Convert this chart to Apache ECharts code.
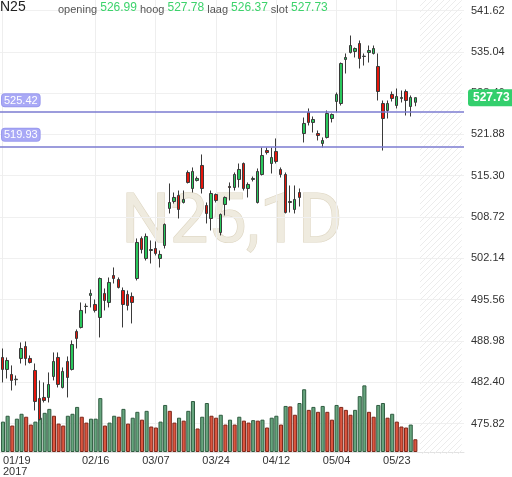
<!DOCTYPE html>
<html>
<head>
<meta charset="utf-8">
<script src="https://cdn.jsdelivr.net/npm/echarts@6/dist/echarts.min.js"></script>
<style>
  html, body { margin: 0; padding: 0; background: #fff; }
  #chart { width: 512px; height: 477px; }
</style>
</head>
<body>
<div id="chart"></div>
<script>
// ============================================================================
// Data
// ============================================================================

const symbol = 'N25'
const period = '1D'
const year = '2017'

const dates = [
  '01/19','01/20','01/23','01/24','01/25','01/26','01/27','01/30','01/31',
  '02/01','02/02','02/03','02/06','02/07','02/08','02/09','02/10','02/13','02/14',
  '02/15','02/16','02/17','02/20','02/21','02/22','02/23','02/24','02/27','02/28',
  '03/01','03/02','03/03','03/06','03/07','03/08','03/09','03/10','03/13','03/14',
  '03/15','03/16','03/17','03/20','03/21','03/22','03/23','03/24','03/27','03/28',
  '03/29','03/30','03/31',
  '04/03','04/04','04/05','04/06','04/07','04/10','04/11','04/12','04/13','04/18',
  '04/19','04/20','04/21','04/24','04/25','04/26','04/27','04/28',
  '05/02','05/03','05/04','05/05','05/08','05/09','05/10','05/11','05/12','05/15',
  '05/16','05/17','05/18','05/19','05/22','05/23','05/24','05/25','05/26','05/29'
]

// [open, close, low, high]
const ohlc = [
  [486.34, 484.43, 482.36, 487.77], [484.43, 485.86, 482.99, 486.34], [483.63, 482.68, 481.08, 485.07],
  [482.80, 482.88, 481.88, 483.47], [486.18, 487.77, 485.38, 488.73], [488.09, 486.18, 485.07, 488.89],
  [486.18, 485.54, 485.38, 486.66], [484.27, 479.33, 477.90, 485.38], [479.81, 476.46, 476.30, 482.68],
  [479.97, 479.49, 479.17, 482.36], [479.97, 482.04, 479.17, 483.95], [483.31, 485.70, 482.68, 487.14],
  [486.34, 482.04, 481.56, 487.14], [481.56, 484.11, 481.40, 484.75], [485.70, 483.15, 479.97, 486.50],
  [484.43, 488.41, 484.27, 489.05], [490.48, 489.37, 487.77, 490.80], [491.12, 493.83, 490.96, 495.10],
  [494.46, 494.50, 493.35, 494.94], [496.22, 496.54, 494.31, 497.17], [494.78, 493.83, 493.51, 495.58],
  [492.71, 498.92, 489.53, 499.08], [496.54, 495.42, 493.83, 497.33], [495.10, 498.29, 494.31, 499.08],
  [499.40, 498.92, 498.13, 500.68], [498.76, 497.49, 497.33, 499.08], [497.01, 494.78, 491.12, 497.49],
  [496.38, 494.62, 493.83, 497.01], [496.06, 495.10, 491.76, 496.69], [498.92, 504.66, 498.61, 505.30],
  [505.30, 503.54, 502.91, 505.62], [502.11, 505.62, 501.79, 506.09], [503.38, 503.54, 501.31, 504.98],
  [503.70, 502.91, 502.59, 504.82], [502.11, 502.75, 500.68, 503.38], [504.18, 507.53, 503.70, 507.69],
  [510.08, 511.03, 509.28, 514.06], [511.19, 511.83, 510.87, 512.62], [512.15, 509.92, 508.48, 512.94],
  [511.03, 511.51, 510.87, 512.94], [515.81, 514.22, 514.06, 516.13], [513.26, 515.97, 512.62, 516.61],
  [514.54, 514.86, 514.38, 515.17], [516.93, 513.26, 512.46, 518.68], [510.55, 509.28, 507.69, 511.03],
  [508.48, 512.46, 506.57, 512.94], [512.30, 511.35, 511.03, 512.46], [506.25, 509.12, 505.78, 509.28],
  [510.71, 511.83, 508.96, 511.99], [513.58, 513.42, 511.35, 514.22], [513.42, 515.49, 512.94, 515.81],
  [514.70, 516.29, 513.42, 517.24], [517.24, 513.26, 512.94, 517.40], [513.26, 513.90, 511.83, 514.22],
  [514.70, 514.86, 514.38, 515.17], [511.03, 515.97, 510.87, 516.45], [515.49, 518.52, 515.33, 519.79],
  [519.31, 518.99, 518.68, 519.79], [517.24, 518.20, 515.65, 519.79], [519.16, 517.56, 517.24, 521.23],
  [516.29, 515.49, 515.01, 516.61], [515.49, 509.44, 509.28, 515.81], [511.03, 511.19, 509.44, 513.74],
  [509.92, 511.51, 509.28, 513.74], [512.62, 511.83, 510.39, 513.26], [522.02, 523.62, 520.59, 524.57],
  [525.37, 523.78, 523.30, 526.01], [523.78, 524.25, 522.18, 524.73], [522.02, 521.70, 520.91, 522.50],
  [520.43, 520.91, 519.79, 521.39], [521.39, 525.21, 521.23, 525.69], [524.41, 525.05, 523.78, 525.21],
  [527.12, 528.24, 525.37, 528.55], [526.80, 533.17, 526.48, 533.33], [533.81, 534.13, 531.58, 534.77],
  [534.93, 536.04, 534.77, 537.63], [535.09, 535.56, 534.13, 535.72], [536.36, 533.97, 532.38, 536.84],
  [534.29, 534.34, 532.85, 534.77], [534.93, 535.24, 533.33, 536.04], [534.77, 535.56, 534.61, 536.04],
  [532.70, 528.71, 527.28, 534.77], [526.80, 524.41, 519.31, 527.28], [525.69, 526.80, 524.41, 527.28],
  [528.24, 527.60, 527.12, 528.71], [526.48, 527.92, 526.01, 529.19], [527.60, 527.76, 526.96, 528.87],
  [528.71, 527.28, 524.89, 529.03], [526.32, 527.76, 524.73, 528.08], [526.99, 527.73, 526.37, 527.78]
]

// millions
const volumes = [
  31, 37, 27, 34, 39, 36, 28, 31, 35, 40, 44, 37, 29, 27, 37, 39, 46, 36, 30, 34,
  34, 55, 27, 30, 37, 36, 44, 29, 35, 41, 33, 42, 26, 25, 31, 48, 42, 30, 35, 32,
  42, 52, 24, 36, 50, 37, 35, 38, 28, 33, 28, 36, 32, 30, 32.5, 32, 33, 25, 35, 37,
  28, 47, 46.5, 38, 50, 64, 43, 46, 41, 47, 41, 33, 48, 46, 43, 38, 43, 57, 68, 41,
  36, 48, 50, 35, 39, 31, 26, 25, 28, 13
]

const yTicks = [475.82, 482.40, 488.98, 495.56, 502.14, 508.72, 515.30, 521.88, 528.46, 535.04, 541.62]
const labelDates = ['01/19', '02/16', '03/07', '03/24', '04/12', '05/04', '05/23']
const levels = [525.42, 519.93]
const emptySlots = 10

// ============================================================================
// Helpers
// ============================================================================

const upColor = '#29c75c'
const downColor = '#e5150b'
const volUpColor = '#67a57e'
const volDownColor = '#dc5640'
const fontFamily = 'Liberation Sans, Arial, sans-serif'

const categories = dates.concat(new Array(emptySlots).fill(''))

function showDate(idx) {
    return labelDates.indexOf(categories[idx]) >= 0
}

function makeHatch() {
    const c = document.createElement('canvas')
    c.width = 6
    c.height = 6
    const ctx = c.getContext('2d')
    ctx.strokeStyle = '#ececec'
    ctx.lineWidth = 1
    ctx.beginPath()
    ctx.moveTo(0, 6); ctx.lineTo(6, 0)
    ctx.moveTo(-1, 1); ctx.lineTo(1, -1)
    ctx.moveTo(5, 7); ctx.lineTo(7, 5)
    ctx.stroke()
    return c
}

// ============================================================================
// Render
// ============================================================================

function main() {
    const chart = echarts.init(document.getElementById('chart'))
    const last = ohlc[ohlc.length - 1]
    const fmt = v => v.toFixed(2)

    const volumeData = volumes.map((v, i) => ({
        value: v,
        itemStyle: (i === 0 || v >= volumes[i - 1])
            ? {color: volUpColor, borderColor: '#2f5c40'}
            : {color: volDownColor, borderColor: '#7c2619'}
    }))

    const option = {
        animation: false,
        textStyle: {fontFamily: fontFamily},
        title: [
            {
                text: symbol,
                left: 0, top: 0, padding: 0,
                textStyle: {fontSize: 14, fontWeight: 'normal', color: '#222', fontFamily: fontFamily}
            },
            {
                text: '{l|opening} {v|' + fmt(last[0]) + '} {l|hoog} {v|' + fmt(last[3]) +
                      '} {l|laag} {v|' + fmt(last[2]) + '} {l|slot} {v|' + fmt(last[1]) + '}',
                left: 58, top: 1, padding: 0,
                textStyle: {
                    fontSize: 11,
                    fontWeight: 'normal',
                    rich: {
                        l: {fontSize: 11, color: '#555', fontFamily: fontFamily, padding: [3, 0, 0, 0]},
                        v: {fontSize: 12, color: '#3dd36c', fontFamily: fontFamily}
                    }
                }
            }
        ],
        graphic: [{
            type: 'text',
            x: 232, y: 225, z: 0,
            silent: true,
            style: {
                text: symbol + ',' + period,
                font: '68px Roboto',
                fill: '#efebdf',
                stroke: '#ddd5c1',
                lineWidth: 1.2,
                align: 'center',
                verticalAlign: 'middle'
            }
        }],
        grid: [
            {left: 0, right: 48, top: 0, bottom: 23},
            {left: 0, right: 48, height: 100, bottom: 23}
        ],
        xAxis: [
            {
                type: 'category', gridIndex: 0, data: categories,
                axisLine: {show: false}, axisTick: {show: false}, axisLabel: {show: false},
                splitLine: {show: true, interval: showDate, alignWithLabel: true, lineStyle: {color: '#eeeeee'}}
            },
            {
                type: 'category', gridIndex: 1, data: categories,
                axisLine: {show: true, lineStyle: {color: '#e2e2e2'}},
                axisTick: {show: false},
                splitLine: {show: false},
                axisLabel: {
                    interval: showDate,
                    color: '#333', fontSize: 11, margin: 3, lineHeight: 11,
                    alignMinLabel: 'left',
                    formatter: (v, idx) => idx === 0 ? v + '\n' + year : v
                }
            }
        ],
        yAxis: [
            {
                type: 'value', gridIndex: 0, position: 'right',
                min: 470.96, max: 543.29,
                axisLine: {show: false},
                axisTick: {show: false, customValues: yTicks},
                axisLabel: {customValues: yTicks, formatter: fmt, color: '#333', fontSize: 11, margin: 7},
                splitLine: {show: true, lineStyle: {color: '#f0f0f0'}}
            },
            {
                type: 'value', gridIndex: 1, min: 0, max: 100, show: false
            }
        ],
        series: [
            {
                name: 'volume', type: 'bar', xAxisIndex: 1, yAxisIndex: 1,
                barCategoryGap: '12%', z: 2,
                itemStyle: {borderWidth: 1},
                data: volumeData
            },
            {
                name: symbol, type: 'candlestick', xAxisIndex: 0, yAxisIndex: 0,
                barWidth: 3, z: 3,
                itemStyle: {
                    color: upColor, color0: downColor,
                    borderColor: '#3a3a3a', borderColor0: '#3a3a3a', borderColorDoji: '#3a3a3a',
                    borderWidth: 1
                },
                data: ohlc,
                markArea: {
                    silent: true,
                    itemStyle: {color: {image: makeHatch(), repeat: 'repeat'}},
                    data: [[{xAxis: dates.length}, {xAxis: categories.length - 1}]]
                },
                markLine: {
                    symbol: 'none', silent: true,
                    data: levels.map(v => ({
                        yAxis: v,
                        lineStyle: {color: '#7b7bd0', width: 1.5, type: 'solid'},
                        label: {
                            position: 'insideStartTop', distance: [2, 6],
                            formatter: p => fmt(p.value),
                            color: '#fff', fontSize: 11,
                            backgroundColor: '#a9a9f6', borderColor: '#9a9aee', borderWidth: 1,
                            borderRadius: 3, padding: [1, 2, 0, 2]
                        }
                    })).concat([{
                        yAxis: last[1],
                        lineStyle: {color: 'rgba(0,0,0,0)', width: 0},
                        label: {
                            position: 'end', distance: 4,
                            formatter: p => fmt(p.value),
                            color: '#fff', fontSize: 12, fontWeight: 'bold',
                            backgroundColor: '#33cf6d', borderRadius: 3, padding: [3, 5, 2, 5]
                        }
                    }])
                }
            }
        ]
    }
    chart.setOption(option)
}

document.addEventListener('DOMContentLoaded', main)
</script>
</body>
</html>
